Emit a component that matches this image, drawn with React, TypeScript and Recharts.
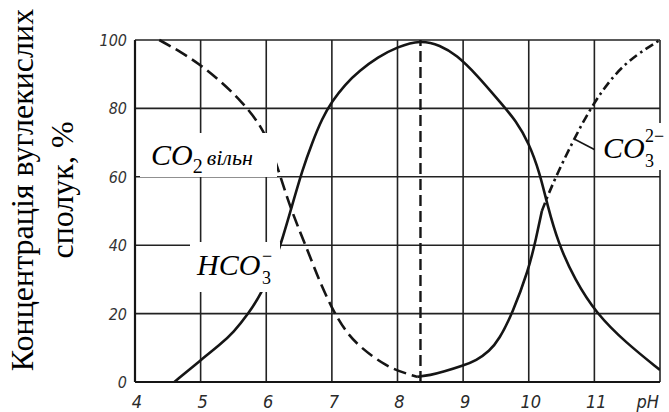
import React from "react";
import { LineChart, Line, XAxis, YAxis, CartesianGrid, ReferenceLine } from "recharts";

// pH axis
const X_TICKS = [4, 5, 6, 7, 8, 9, 10, 11, 12];
const X_LABELS = ["4", "5", "6", "7", "8", "9", "10", "11", "pH"];
const Y_TICKS = [0, 20, 40, 60, 80, 100];

// free CO2 (dashed)
const CO2_PH = [4.37, 4.7, 5.0, 5.3, 5.63, 5.93, 6.08, 6.2, 6.35, 6.52, 6.65, 6.8, 7.0, 7.2, 7.42, 7.83, 8.13, 8.3];
const CO2_PCT = [100, 96.5, 92.7, 88, 82, 74.7, 68, 61, 52, 43.6, 37.5, 30, 21.5, 15, 10.3, 4.5, 2.5, 1.5];

// HCO3- (solid)
const HCO3_PH = [4.6, 5.0, 5.3, 5.5, 5.73, 5.93, 6.1, 6.25, 6.4, 6.55, 6.7, 6.85, 7.0, 7.2, 7.42, 7.7, 8.0, 8.35, 8.65, 8.9, 9.2, 9.6, 9.8, 10.0, 10.17, 10.28, 10.45, 10.7, 11.03, 11.48, 12.0];
const HCO3_PCT = [0, 6.4, 11, 14.5, 20, 26, 33.5, 42, 52, 62, 70, 77, 82, 87, 91, 95, 98, 100, 98.5, 95.6, 90, 81, 76.5, 70, 61, 52, 40.5, 30, 20, 11.5, 3.5];

// CO3 2- : solid lower branch, dash-dot upper branch
const CO3_LOW_PH = [8.3, 8.5, 8.7, 9.0, 9.2, 9.4, 9.55, 9.75, 10.0, 10.1, 10.2];
const CO3_LOW_PCT = [1.5, 2, 3, 4.8, 6.3, 9, 12.5, 20, 33, 41, 50];
const CO3_HIGH_PH = [10.2, 10.3, 10.45, 10.6, 10.93, 11.3, 11.63, 12.0];
const CO3_HIGH_PCT = [50, 55, 61.5, 67.5, 80, 90, 95.6, 100];

// equivalence point
const EQ_PH = 8.35;

const zip = (xs: number[], ys: number[]) => xs.map((ph, i) => ({ ph, v: ys[i] }));

const INK = "#151515";
const TICK_FONT = "'Liberation Sans Narrow', 'DejaVu Sans Condensed', 'Liberation Sans', sans-serif";
const SERIF = "'Liberation Serif', 'DejaVu Serif', serif";

function XTick({ x, y, payload }: any) {
  const i = X_TICKS.indexOf(payload.value);
  const last = payload.value === 12;
  return (
    <text x={last ? x - 1 : x + 2} y={y + 26} textAnchor={last ? "end" : "middle"}
      fontFamily={TICK_FONT} fontStyle="italic" fontSize={18} fill="#2a2a2a">
      {X_LABELS[i]}
    </text>
  );
}

function YTick({ x, y, payload }: any) {
  return (
    <text x={x} y={y + 6} textAnchor="end" fontFamily={TICK_FONT} fontStyle="italic" fontSize={16} fill="#333">
      {payload.value}
    </text>
  );
}

export default function App() {
  return (
    <div style={{ position: "absolute", left: 0, top: 0, width: 669, height: 412, background: "#fff" }}>
      <LineChart width={669} height={412} margin={{ top: 40, right: 9, bottom: 0, left: 0 }}>
        <CartesianGrid stroke="#222" strokeWidth={1.6} />
        <XAxis type="number" dataKey="ph" domain={[4, 12]} ticks={X_TICKS} interval={0}
          axisLine={{ stroke: INK, strokeWidth: 2.2 }} tickLine={false} tickSize={0} tickMargin={0}
          height={30} tick={<XTick />} allowDataOverflow />
        <YAxis type="number" domain={[0, 100]} ticks={Y_TICKS} interval={0} width={135}
          axisLine={{ stroke: INK, strokeWidth: 2.2 }} tickLine={false} tickSize={0} tickMargin={8}
          tick={<YTick />} />
        <ReferenceLine x={EQ_PH} stroke={INK} strokeWidth={2.4} strokeDasharray="11 5" />
        <ReferenceLine segment={[{ x: 10.7, y: 71 }, { x: 11.0, y: 68 }]} stroke={INK} strokeWidth={1.6} />
        <Line data={zip(CO2_PH, CO2_PCT)} dataKey="v" type="basis" stroke={INK} strokeWidth={2.6}
          strokeDasharray="13 6" dot={false} isAnimationActive={false} />
        <Line data={zip(HCO3_PH, HCO3_PCT)} dataKey="v" type="basis" stroke={INK} strokeWidth={2.6}
          dot={false} isAnimationActive={false} />
        <Line data={zip(CO3_LOW_PH, CO3_LOW_PCT)} dataKey="v" type="basis" stroke={INK} strokeWidth={2.6}
          dot={false} isAnimationActive={false} />
        <Line data={zip(CO3_HIGH_PH, CO3_HIGH_PCT)} dataKey="v" type="basis" stroke={INK} strokeWidth={2.6}
          strokeDasharray="9 4 2.5 4" dot={false} isAnimationActive={false} />
      </LineChart>

      {/* axis title and species labels */}
      <svg width={669} height={412} style={{ position: "absolute", left: 0, top: 0, pointerEvents: "none" }}>
        <g fontFamily={SERIF} fontSize={32} fill="#000">
          <text transform="translate(33,190) rotate(-90)" textAnchor="middle">Концентрація вуглекислих</text>
          <text transform="translate(73,190) rotate(-90)" textAnchor="middle">сполук, %</text>
        </g>

        <rect x={140} y={133} width={137} height={44} fill="#fff" />
        <text x={151} y={165} fontFamily={SERIF} fill="#000">
          <tspan fontSize={30} fontStyle="italic">CO</tspan>
          <tspan fontSize={20} dy={8}>2</tspan>
          <tspan fontSize={22} fontStyle="italic" dx={4} dy={-8}>вільн</tspan>
        </text>

        <rect x={190} y={242} width={90} height={50} fill="#fff" />
        <text x={197} y={275} fontFamily={SERIF} fill="#000">
          <tspan fontSize={30} fontStyle="italic">HCO</tspan>
          <tspan fontSize={18} x={262} y={284}>3</tspan>
          <tspan fontSize={18} x={262} y={262}>−</tspan>
        </text>

        <rect x={597} y={123} width={72} height={47} fill="#fff" />
        <text x={603} y={158} fontFamily={SERIF} fill="#000">
          <tspan fontSize={30} fontStyle="italic">CO</tspan>
          <tspan fontSize={18} x={645} y={167}>3</tspan>
          <tspan fontSize={18} x={645} y={142}>2−</tspan>
        </text>
      </svg>
    </div>
  );
}
